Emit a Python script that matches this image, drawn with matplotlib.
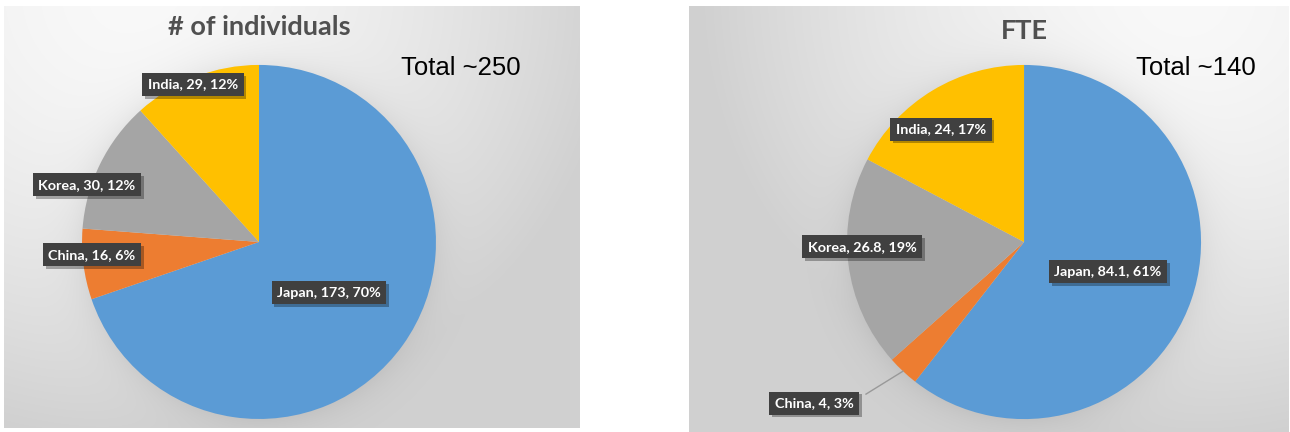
import numpy as np
import matplotlib
matplotlib.use("Agg")
import matplotlib.pyplot as plt
import matplotlib.patheffects as pe

# Office-style slice colours
colors = ['#5B9BD5', '#ED7D31', '#A5A5A5', '#FFC000']
countries = ['Japan', 'China', 'Korea', 'India']

# head count
people = [173, 16, 30, 29]
people_pct = [70, 6, 12, 12]

# full time equivalents
fte = [84.1, 4, 26.8, 24]
fte_pct = [61, 3, 19, 17]
fte_text = ['84.1', '4', '26.8', '24']


def background(ax, xlim, ylim, light, spread):
    # soft radial grey fill plus a halo under the pie
    xs = np.linspace(xlim[0], xlim[1], 600)
    ys = np.linspace(ylim[1], ylim[0], 440)
    X, Y = np.meshgrid(xs, ys)
    r = ((X - light[0]) / spread[0]) ** 2 + ((Y - light[1]) / spread[1]) ** 2
    v = 249 - 40 * np.clip(r, 0, 1) ** 0.8
    d = np.hypot(X, Y)
    v = v - np.where(d > 1, 14 * np.exp(-(d - 1) / 0.09), 14)
    img = np.dstack([v, v, v]) / 255.0
    ax.imshow(np.clip(img, 0, 1), extent=(xlim[0], xlim[1], ylim[0], ylim[1]),
              aspect='auto', zorder=0, interpolation='bilinear')


def tag(ax, x, y, s):
    t = ax.text(x, y, s, ha='center', va='center', color='white',
                fontsize=10.4, fontweight='bold', family='Lato', zorder=5,
                bbox=dict(boxstyle='square,pad=0.38', fc='#404040', ec='none'))
    t.get_bbox_patch().set_path_effects(
        [pe.withSimplePatchShadow(offset=(2, -2), shadow_rgbFace='black', alpha=0.3),
         pe.Normal()])
    return t


def panel(rect, xlim, ylim, values, labels, spots, title, title_y, total,
          light, spread):
    ax = fig.add_axes(rect)
    ax.pie(values, colors=colors, startangle=90, counterclock=False,
           radius=1, frame=True, wedgeprops=dict(linewidth=0))
    ax.set_xlim(*xlim)
    ax.set_ylim(*ylim)
    ax.set_aspect('auto')
    ax.axis('off')
    background(ax, xlim, ylim, light, spread)
    for s, (x, y) in zip(labels, spots):
        tag(ax, x, y, s)
    ax.text(0, title_y, title, ha='center', va='center', fontsize=19.5,
            fontweight='bold', family='Lato', color='#505050')
    ax.text(total[0], total[1], total[2], ha='center', va='center',
            fontsize=18.5, family='Liberation Sans', color='black')
    return ax


fig = plt.figure(figsize=(12.9, 4.32), dpi=100)
fig.patch.set_facecolor('white')

left_labels = ['%s, %d, %d%%' % (c, v, p) for c, v, p in zip(countries, people, people_pct)]
panel([4 / 1290, 4 / 432, 576 / 1290, 422 / 432],
      (-1.441, 1.814), (-1.051, 1.333),
      people, left_labels,
      [(0.395, -0.288), (-0.944, -0.073), (-0.972, 0.322), (-0.373, 0.890)],
      '# of individuals', 1.215, (1.141, 0.983, 'Total ~250'),
      (-0.7, 1.4), (2.7, 2.5))

right_labels = ['%s, %s, %d%%' % (c, v, p) for c, v, p in zip(countries, fte_text, fte_pct)]
ax2 = panel([689 / 1290, 0, 600 / 1290, 426 / 432],
            (-1.893, 1.497), (-1.073, 1.333),
            fte, right_labels,
            [(0.475, -0.169), (-1.186, -0.910), (-0.915, -0.028), (-0.469, 0.638)],
            'FTE', 1.19, (0.972, 0.983, 'Total ~140'),
            (0.9, 1.4), (2.7, 2.5))

# leader line for the thin China slice
start = 90 - 360 * fte[0] / sum(fte)
mid = np.radians(start - 180 * fte[1] / sum(fte))
ax2.plot([-0.893, np.cos(mid)], [-0.859, np.sin(mid)], color='#999999',
         lw=1, zorder=4)

fig.savefig('out.png', dpi=100)
